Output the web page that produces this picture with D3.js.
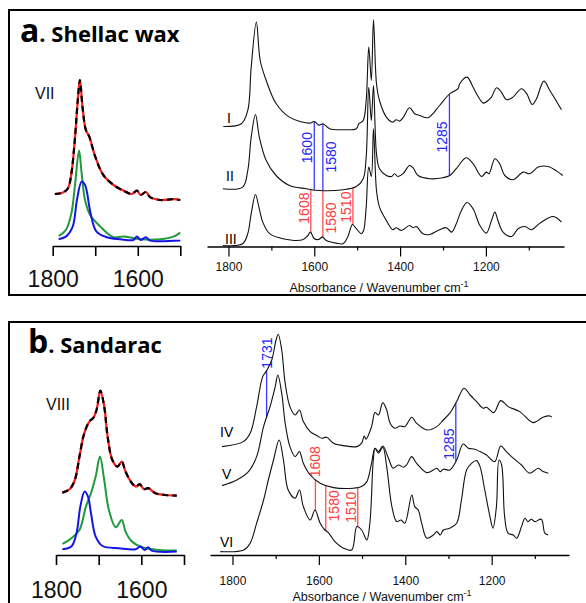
<!DOCTYPE html>
<html>
<head>
<meta charset="utf-8">
<script src="https://cdn.jsdelivr.net/npm/d3@7/dist/d3.min.js"></script>
<style>
  body { margin: 0; background: #fff; }
  svg { display: block; }
</style>
</head>
<body>
<svg id="fig" width="586" height="603"></svg>
<script>
// spectra: [wavenumber cm-1, absorbance (stacked offset)]
const specI = [[1812,0.60],[1770,0.614],[1755,0.68],[1747,0.897],[1735,1.122],[1726,0.93],[1712,0.83],[1689,0.715],[1658,0.647],[1611,0.617],[1600,0.625],[1589,0.607],[1580,0.614],[1564,0.589],[1533,0.584],[1502,0.589],[1496,0.614],[1486,0.63],[1479,0.73],[1473,0.997],[1467,0.83],[1462,1.134],[1455,0.814],[1448,0.73],[1432,0.647],[1417,0.622],[1409,0.634],[1401,0.627],[1393,0.644],[1378,0.694],[1366,0.664],[1354,0.655],[1335,0.644],[1308,0.705],[1284,0.764],[1265,0.789],[1261,0.814],[1244,0.847],[1230,0.797],[1222,0.764],[1206,0.717],[1195,0.73],[1187,0.747],[1175,0.794],[1164,0.772],[1152,0.734],[1137,0.747],[1117,0.789],[1105,0.764],[1092,0.71],[1082,0.739],[1065,0.827],[1051,0.78],[1039,0.739],[1024,0.684]];
const specII = [[1813,0.289],[1767,0.297],[1755,0.38],[1747,0.547],[1737,0.66],[1728,0.547],[1712,0.43],[1689,0.355],[1658,0.305],[1619,0.289],[1588,0.28],[1533,0.284],[1502,0.30],[1486,0.339],[1479,0.447],[1473,0.796],[1467,0.63],[1462,0.805],[1455,0.464],[1448,0.389],[1432,0.355],[1420,0.35],[1413,0.364],[1405,0.35],[1393,0.364],[1378,0.405],[1370,0.394],[1358,0.355],[1331,0.339],[1300,0.344],[1284,0.355],[1269,0.389],[1246,0.444],[1230,0.414],[1210,0.35],[1199,0.372],[1193,0.364],[1179,0.439],[1168,0.414],[1156,0.355],[1137,0.334],[1113,0.372],[1098,0.364],[1078,0.397],[1055,0.40],[1035,0.377],[1021,0.355]];
const specIII = [[1813,0.005],[1767,0.014],[1755,0.064],[1747,0.164],[1737,0.26],[1729,0.197],[1720,0.122],[1704,0.064],[1673,0.039],[1627,0.034],[1615,0.055],[1609,0.072],[1600,0.039],[1590,0.035],[1581,0.047],[1572,0.03],[1549,0.017],[1533,0.014],[1522,0.047],[1511,0.11],[1502,0.089],[1490,0.064],[1485,0.08],[1479,0.197],[1473,0.397],[1467,0.35],[1462,0.589],[1455,0.28],[1448,0.197],[1432,0.13],[1417,0.084],[1409,0.094],[1397,0.08],[1378,0.105],[1370,0.094],[1362,0.10],[1347,0.064],[1331,0.06],[1308,0.084],[1292,0.094],[1280,0.072],[1269,0.114],[1257,0.18],[1244,0.22],[1230,0.189],[1214,0.105],[1199,0.067],[1187,0.13],[1179,0.172],[1172,0.13],[1160,0.072],[1140,0.05],[1125,0.089],[1109,0.10],[1094,0.084],[1074,0.117],[1043,0.15],[1024,0.122]];

// carbonyl region fit, shellac wax (VII): measured, fit sum, two components
const specVII = [[1795,0.26],[1776,0.267],[1764,0.289],[1756,0.364],[1748,0.53],[1741,0.73],[1736,0.83],[1730,0.697],[1722,0.58],[1714,0.547],[1700,0.447],[1681,0.355],[1657,0.305],[1634,0.277],[1614,0.26],[1602,0.277],[1593,0.255],[1581,0.27],[1571,0.244],[1547,0.23],[1516,0.234],[1500,0.23]];
const compVIIgreen = [[1786,0.05],[1769,0.08],[1756,0.164],[1748,0.297],[1738,0.477],[1732,0.364],[1724,0.23],[1712,0.155],[1688,0.097],[1657,0.044],[1634,0.047],[1594,0.034],[1547,0.034],[1516,0.047],[1500,0.067]];
const compVIIblue = [[1786,0.034],[1769,0.047],[1753,0.097],[1743,0.23],[1732,0.322],[1724,0.305],[1719,0.264],[1711,0.164],[1697,0.072],[1673,0.044],[1641,0.034],[1610,0.03],[1602,0.047],[1593,0.03],[1581,0.044],[1571,0.027],[1500,0.027]];

const specIV = [[1824,0.542],[1775,0.567],[1759,0.609],[1744,0.742],[1730,0.892],[1720,0.925],[1709,0.975],[1699,1.075],[1694,1.104],[1686,1.025],[1678,0.859],[1667,0.742],[1655,0.70],[1645,0.725],[1636,0.667],[1620,0.617],[1603,0.595],[1593,0.584],[1582,0.589],[1566,0.559],[1543,0.547],[1512,0.542],[1501,0.559],[1495,0.595],[1491,0.579],[1478,0.642],[1470,0.712],[1462,0.70],[1452,0.762],[1443,0.725],[1435,0.659],[1424,0.634],[1412,0.645],[1401,0.642],[1385,0.689],[1374,0.659],[1350,0.625],[1327,0.642],[1312,0.675],[1297,0.709],[1281,0.767],[1264,0.834],[1250,0.80],[1235,0.767],[1220,0.734],[1212,0.739],[1195,0.712],[1179,0.772],[1162,0.742],[1135,0.717],[1104,0.662],[1081,0.689],[1065,0.695],[1061,0.689]];
const specV = [[1824,0.347],[1790,0.375],[1763,0.417],[1744,0.492],[1728,0.642],[1713,0.742],[1701,0.842],[1695,0.90],[1686,0.809],[1678,0.659],[1667,0.542],[1655,0.492],[1645,0.517],[1636,0.459],[1620,0.40],[1597,0.359],[1566,0.337],[1520,0.334],[1501,0.342],[1489,0.367],[1478,0.459],[1470,0.534],[1462,0.517],[1452,0.545],[1439,0.484],[1428,0.434],[1416,0.45],[1404,0.439],[1397,0.45],[1385,0.492],[1374,0.459],[1350,0.412],[1335,0.425],[1327,0.434],[1319,0.417],[1312,0.429],[1297,0.425],[1281,0.475],[1266,0.555],[1254,0.534],[1239,0.529],[1227,0.517],[1212,0.50],[1193,0.467],[1179,0.545],[1166,0.517],[1150,0.484],[1131,0.45],[1112,0.409],[1092,0.434],[1081,0.417],[1069,0.409]];
const specVI = [[1828,0.017],[1774,0.025],[1759,0.059],[1744,0.159],[1728,0.275],[1717,0.375],[1705,0.475],[1692,0.575],[1682,0.475],[1671,0.325],[1655,0.284],[1645,0.325],[1636,0.242],[1620,0.175],[1609,0.225],[1597,0.159],[1586,0.125],[1578,0.112],[1563,0.067],[1543,0.034],[1524,0.025],[1512,0.142],[1501,0.125],[1489,0.075],[1482,0.159],[1474,0.475],[1470,0.534],[1462,0.509],[1452,0.539],[1443,0.442],[1431,0.242],[1420,0.167],[1410,0.175],[1401,0.159],[1385,0.30],[1378,0.242],[1370,0.225],[1362,0.159],[1350,0.084],[1335,0.10],[1327,0.117],[1319,0.10],[1312,0.125],[1297,0.134],[1281,0.159],[1270,0.275],[1258,0.425],[1246,0.459],[1235,0.472],[1227,0.442],[1216,0.325],[1204,0.192],[1197,0.134],[1189,0.242],[1183,0.475],[1177,0.45],[1170,0.192],[1162,0.109],[1150,0.10],[1142,0.084],[1131,0.142],[1123,0.184],[1116,0.167],[1108,0.179],[1100,0.167],[1085,0.179],[1077,0.109],[1069,0.10]];

// sandarac carbonyl fit (VIII)
const specVIII = [[1785,0.312],[1768,0.329],[1756,0.375],[1745,0.492],[1736,0.592],[1728,0.642],[1720,0.672],[1713,0.684],[1705,0.725],[1696,0.822],[1687,0.742],[1679,0.592],[1668,0.475],[1656,0.442],[1646,0.467],[1637,0.417],[1622,0.359],[1612,0.342],[1604,0.355],[1594,0.329],[1584,0.334],[1567,0.309],[1544,0.30],[1517,0.297]];
const compVIIIgreen = [[1785,0.055],[1764,0.084],[1745,0.125],[1730,0.242],[1718,0.309],[1707,0.392],[1697,0.492],[1687,0.375],[1676,0.225],[1660,0.139],[1646,0.175],[1637,0.117],[1622,0.067],[1598,0.039],[1559,0.025],[1517,0.022]];
const compVIIIblue = [[1785,0.029],[1764,0.042],[1752,0.109],[1743,0.242],[1733,0.317],[1725,0.292],[1718,0.209],[1707,0.092],[1691,0.045],[1652,0.034],[1614,0.029],[1602,0.042],[1592,0.025],[1584,0.039],[1576,0.022],[1517,0.017]];

// band markers: [position, label, upper spectrum, lower spectrum]
const bandsA = [[1600,"1600","I","II"],[1580,"1580","I","II"],[1285,"1285","I","II"],
                [1608,"1608","II","III"],[1580,"1580","II","III"],[1510,"1510","II","III"]];
const bandsB = [[1721,"1731","IV","V"],[1283,"1285","IV","V"],
                [1608,"1608","V","VI"],[1584,"1580","V","VI"],[1510,"1510","V","VI"]];

const ticksMajor = [1800,1600,1400,1200];
const ticksMinor = [1700,1500,1300,1100];
const ticksInset = [1800,1700,1600,1500];
const insetLabels = [1800,1600];

const spectra = {I:specI, II:specII, III:specIII, IV:specIV, V:specV, VI:specVI};

const svg = d3.select("#fig");
const FONT = "'Liberation Sans', Arial, sans-serif";
const BLUE = "#2424ff", RED = "#ff3b3b";

function interp(spec, wn) {
  for (let i = 0; i < spec.length - 1; i++) {
    const [w0, a0] = spec[i], [w1, a1] = spec[i + 1];
    if (wn <= w0 && wn >= w1) return a0 + (a1 - a0) * (w0 - wn) / (w0 - w1);
  }
  return spec[spec.length - 1][1];
}

function lineGen(x, y) {
  return d3.line().x(d => x(d[0])).y(d => y(d[1])).curve(d3.curveCatmullRom.alpha(0.5));
}

// panel frames
svg.append("rect").attr("x", 9).attr("y", 10).attr("width", 600).attr("height", 285)
  .attr("fill", "none").attr("stroke", "#000").attr("stroke-width", 2);
svg.append("rect").attr("x", 9).attr("y", 322).attr("width", 600).attr("height", 300)
  .attr("fill", "none").attr("stroke", "#000").attr("stroke-width", 2);

function title(x, y, letter, rest) {
  const t = svg.append("text").attr("x", x).attr("y", y)
    .attr("font-family", "'Open Sans', Lato, sans-serif").attr("font-weight", "bold").attr("fill", "#000");
  t.append("tspan").attr("font-size", 32).text(letter);
  t.append("tspan").attr("font-size", 22).text(rest);
}
title(20, 42, "a", ". Shellac wax");
title(28, 353, "b", ". Sandarac");

function mainPanel(cfg) {
  const x = d3.scaleLinear().domain(cfg.xDomain).range(cfg.xRange);
  const y = d3.scaleLinear().domain([0, 1.2]).range([cfg.axisY, cfg.axisY - 240]);
  const g = svg.append("g");

  // axis: major ticks with labels, minor ticks plain
  const ax = g.append("g").attr("transform", `translate(0,${cfg.axisY})`)
    .call(d3.axisBottom(x).tickValues(ticksMajor).tickSize(10).tickSizeOuter(0)
      .tickPadding(cfg.tickPad).tickFormat(d3.format("d")));
  ax.select(".domain").attr("stroke-width", 1.3);
  ax.selectAll(".tick line").attr("stroke-width", 1.2);
  ax.selectAll("text").attr("font-family", FONT).attr("font-size", 12).attr("fill", "#111");
  g.append("g").attr("transform", `translate(0,${cfg.axisY})`)
    .call(d3.axisBottom(x).tickValues(ticksMinor).tickSize(4).tickFormat(""))
    .call(s => s.select(".domain").remove())
    .selectAll(".tick line").attr("stroke-width", 1.2);

  const tt = g.append("text").attr("x", cfg.titleX).attr("y", cfg.titleY)
    .attr("text-anchor", "middle").attr("font-family", FONT).attr("font-size", 12.5).attr("fill", "#111");
  tt.append("tspan").text("Absorbance / Wavenumber cm");
  tt.append("tspan").attr("dy", -5).attr("font-size", 9).text("-1");

  // band markers
  cfg.bands.forEach(([wn, lab, top, bot], i) => {
    const col = cfg.bandColor(top);
    const xx = x(wn), y1 = y(interp(spectra[top], wn)), y2 = y(interp(spectra[bot], wn));
    g.append("line").attr("x1", xx).attr("x2", xx).attr("y1", y1).attr("y2", y2)
      .attr("stroke", col).attr("stroke-width", 1.3).attr("opacity", 0.9);
    const place = cfg.place[i];
    let tx, ty, anchor;
    if (place === "above") { tx = xx + 5; ty = y1 - 2; anchor = "start"; }
    else if (place === "right") { tx = xx + 13.5; ty = (y1 + y2) / 2 + cfg.shift[i]; anchor = "middle"; }
    else { tx = xx - 2; ty = (y1 + y2) / 2 + cfg.shift[i]; anchor = "middle"; }
    g.append("text").attr("transform", `translate(${tx},${ty}) rotate(-90)`)
      .attr("text-anchor", anchor).attr("font-family", FONT).attr("font-size", 14)
      .attr("fill", col).text(lab);
  });

  const line = lineGen(x, y);
  cfg.names.forEach((n, i) => {
    g.append("path").datum(spectra[n]).attr("d", line)
      .attr("fill", "none").attr("stroke", "#111").attr("stroke-width", 1.1);
    g.append("text").attr("x", cfg.romanX[i]).attr("y", cfg.romanY[i])
      .attr("font-family", FONT).attr("font-size", 14).attr("fill", "#000").text(n);
  });
}

mainPanel({
  xDomain: [1850, 1018], xRange: [207, 564], axisY: 246.5, tickPad: 6,
  titleX: 379, titleY: 292, names: ["I", "II", "III"],
  romanX: [227, 226, 225], romanY: [122.5, 181, 244],
  bands: bandsA, bandColor: top => top === "I" ? BLUE : RED,
  place: ["left", "right", "left", "left", "right", "left"],
  shift: [-8, 0, 2, -3, 4, 1]
});
mainPanel({
  xDomain: [1852, 1021], xRange: [210, 569], axisY: 555, tickPad: 11.5,
  titleX: 382, titleY: 601, names: ["IV", "V", "VI"],
  romanX: [220, 222, 220], romanY: [437, 479, 546.5],
  bands: bandsB, bandColor: top => top === "IV" ? BLUE : RED,
  place: ["above", "left", "above", "right", "left"],
  shift: [0, 12, 0, -2, 0]
});

function insetPanel(cfg) {
  const x = d3.scaleLinear().domain([1800, 1500]).range(cfg.xRange);
  const y = d3.scaleLinear().domain([0, 1.2]).range([cfg.axisY, cfg.axisY - 240]);
  const g = svg.append("g");
  const ax = g.append("g").attr("transform", `translate(0,${cfg.axisY})`)
    .call(d3.axisBottom(x).tickValues(ticksInset).tickSize(10).tickSizeOuter(0)
      .tickPadding(cfg.tickPad).tickFormat(d => insetLabels.includes(d) ? d : ""));
  ax.select(".domain").attr("stroke-width", 1.6);
  ax.selectAll(".tick line").attr("stroke-width", 1.6);
  ax.selectAll("text").attr("font-family", FONT).attr("font-size", 23).attr("fill", "#111");

  const line = lineGen(x, y);
  g.append("path").datum(cfg.green).attr("d", line).attr("fill", "none")
    .attr("stroke", "#1f9a3c").attr("stroke-width", 2);
  g.append("path").datum(cfg.blue).attr("d", line).attr("fill", "none")
    .attr("stroke", "#1414e6").attr("stroke-width", 2);
  g.append("path").datum(cfg.total).attr("d", line).attr("fill", "none")
    .attr("stroke", "#ff1a1a").attr("stroke-width", 2.2);
  g.append("path").datum(cfg.total).attr("d", line).attr("fill", "none")
    .attr("stroke", "#000").attr("stroke-width", 2.2).attr("stroke-dasharray", "6,4");
  g.append("text").attr("x", cfg.labX).attr("y", cfg.labY).attr("font-family", FONT)
    .attr("font-size", 16).attr("fill", "#111").text(cfg.label);
}

insetPanel({ xRange: [52.7, 180.3], axisY: 246, tickPad: 14.5, total: specVII,
  green: compVIIgreen, blue: compVIIblue, label: "VII", labX: 35, labY: 99 });
insetPanel({ xRange: [56, 184], axisY: 555, tickPad: 16.5, total: specVIII,
  green: compVIIIgreen, blue: compVIIIblue, label: "VIII", labX: 46, labY: 410 });
</script>
</body>
</html>
